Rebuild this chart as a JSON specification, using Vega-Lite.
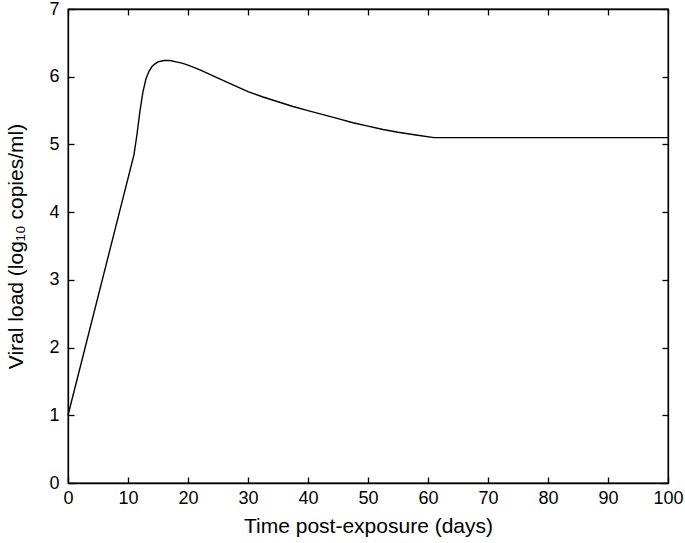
{
  "$schema": "https://vega.github.io/schema/vega-lite/v6.json",
  "width": 600,
  "height": 474,
  "autosize": "none",
  "padding": {"left": 68, "top": 9, "right": 17, "bottom": 60},
  "background": "white",
  "config": {
    "view": {"stroke": "black", "strokeWidth": 1.3},
    "font": "Liberation Sans",
    "axis": {
      "labelFont": "Liberation Sans",
      "titleFont": "Liberation Sans",
      "labelFontSize": 18,
      "titleFontSize": 21,
      "titleFontWeight": "normal",
      "labelColor": "black",
      "titleColor": "black",
      "tickColor": "black",
      "domainColor": "black",
      "tickSize": -6,
      "tickWidth": 1.3,
      "domainWidth": 1.3,
      "grid": false
    }
  },
  "data": {
    "values": [
      {"day": 0, "load": 1},
      {"day": 11, "load": 4.85},
      {"day": 11.5, "load": 5.15},
      {"day": 12, "load": 5.5},
      {"day": 12.5, "load": 5.78},
      {"day": 13, "load": 5.97},
      {"day": 13.5, "load": 6.08},
      {"day": 14, "load": 6.15},
      {"day": 14.5, "load": 6.19},
      {"day": 15, "load": 6.22},
      {"day": 16, "load": 6.24},
      {"day": 17, "load": 6.24},
      {"day": 18, "load": 6.22},
      {"day": 19, "load": 6.2},
      {"day": 20, "load": 6.17},
      {"day": 22, "load": 6.1},
      {"day": 25, "load": 5.98},
      {"day": 27.5, "load": 5.88},
      {"day": 30, "load": 5.78},
      {"day": 32.5, "load": 5.7},
      {"day": 35, "load": 5.63},
      {"day": 37.5, "load": 5.56},
      {"day": 40, "load": 5.5},
      {"day": 42.5, "load": 5.44},
      {"day": 45, "load": 5.38},
      {"day": 47.5, "load": 5.32},
      {"day": 50, "load": 5.27},
      {"day": 52.5, "load": 5.22},
      {"day": 55, "load": 5.18},
      {"day": 58, "load": 5.14},
      {"day": 61, "load": 5.1},
      {"day": 100, "load": 5.1}
    ]
  },
  "layer": [
    {
      "mark": {"type": "line", "color": "black", "strokeWidth": 1.4},
      "encoding": {
        "x": {"field": "day", "type": "quantitative", "scale": {"domain": [0, 100], "nice": false},
          "axis": {"orient": "bottom", "title": "Time post-exposure (days)", "values": [0,10,20,30,40,50,60,70,80,90,100], "labelPadding": 12, "titlePadding": 8, "labelFlush": false}},
        "y": {"field": "load", "type": "quantitative", "scale": {"domain": [0, 7], "nice": false},
          "axis": {"orient": "left", "title": "Viral load (log₁₀ copies/ml)", "values": [0,1,2,3,4,5,6,7], "labelPadding": 15, "titlePadding": 22, "labelFlush": false}}
      }
    },
    {
      "mark": {"type": "line", "opacity": 0},
      "encoding": {
        "x": {"field": "day", "type": "quantitative", "axis": {"orient": "top", "title": null, "labels": false, "values": [0,10,20,30,40,50,60,70,80,90,100]}},
        "y": {"field": "load", "type": "quantitative", "axis": {"orient": "right", "title": null, "labels": false, "values": [0,1,2,3,4,5,6,7]}}
      }
    }
  ],
  "resolve": {"axis": {"x": "independent", "y": "independent"}}
}
